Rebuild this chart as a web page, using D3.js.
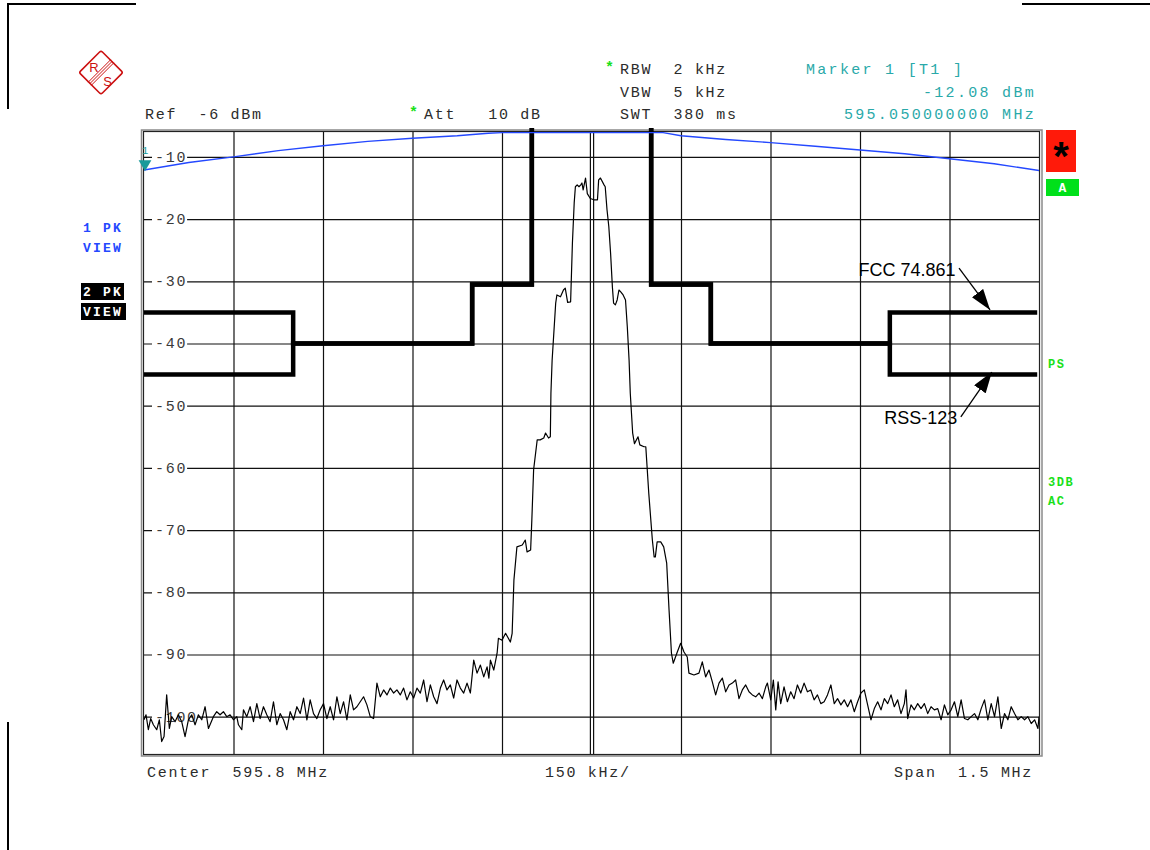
<!DOCTYPE html>
<html><head><meta charset="utf-8">
<script src="https://cdn.jsdelivr.net/npm/d3@7"></script>
<style>
html,body{margin:0;padding:0;background:#fff;}
svg{display:block;}
</style></head><body>
<svg id="chart" width="1150" height="850"></svg>
<script>
// ---------------- DATA ----------------
const centerMHz = 595.8;
const spanKHz = [-750, 750];             // frequency offset from center, kHz
const levelRange = [-106, -6];           // dBm (Ref -6 dBm, 10 dB/div)
const yTicks = [-10, -20, -30, -40, -50, -60, -70, -80, -90, -100];
const xGridKHz = [-600, -450, -300, -150, 0, 150, 300, 450, 600];

const refText = "Ref  -6 dBm";
const attText = "Att   10 dB";
const sweepTexts = ["RBW  2 kHz", "VBW  5 kHz", "SWT  380 ms"];
const markerTexts = ["Marker 1 [T1 ]", "-12.08 dBm", "595.050000000 MHz"];
const footerTexts = ["Center  595.8 MHz", "150 kHz/", "Span  1.5 MHz"];
const trace1Labels = ["1 PK", "VIEW"];
const trace2Labels = ["2 PK", "VIEW"];
const statusLabels = ["PS", "3DB", "AC"];
const annotationTexts = ["FCC 74.861", "RSS-123"];

const marker1 = [-750, -12.08];

// limit masks [kHz offset, dBm]
const limitFCC = [[-750,-35],[-500,-35],[-500,-40],[-200,-40],[-200,-30.5],[-100,-30.5],[-100,0],
                  [100,0],[100,-30.5],[200,-30.5],[200,-40],[500,-40],[500,-35],[747,-35]];
const limitRSS = [[-750,-45],[-500,-45],[-500,-40],[-200,-40],[-200,-30.5],[-100,-30.5],[-100,0],
                  [100,0],[100,-30.5],[200,-30.5],[200,-40],[500,-40],[500,-45],[747,-45]];

// trace 1 (blue, PK view)
const trace1 = [[-750,-12.1],[-675,-10.9],[-600,-10.0],[-525,-9.0],[-450,-8.2],[-375,-7.5],[-300,-7.0],
  [-225,-6.6],[-173,-6.2],[-150,-6.1],[0,-6.1],[120,-6.1],[150,-6.6],[225,-7.2],[300,-7.7],[375,-8.3],
  [450,-8.9],[525,-9.5],[600,-10.3],[675,-11.1],[750,-12.2]];

// trace 2 (black spectrum)
const trace2 = [
 [-750,-100.5],[-746.6,-99.7],[-742.7,-102.1],[-738.8,-100.3],[-734.3,-101.3],[-728.7,-102.1],[-724.3,-100.5],
 [-720.4,-104.0],[-716.4,-103.2],[-712,-96.5],[-707.5,-101.9],[-703.6,-100.0],[-698,-100.8],[-692.4,-99.7],
 [-686.8,-100.8],[-681.2,-103.2],[-675.6,-100.5],[-670,-99.7],[-664.4,-101.3],[-658.8,-99.7],[-653.2,-100.5],
 [-647.6,-98.4],[-642,-101.9],[-633.7,-100.0],[-628.1,-99.2],[-622.5,-99.7],[-616.9,-99.2],[-611.3,-100.0],
 [-605.7,-99.7],[-600.1,-100.5],[-594.5,-100.0],[-591.7,-101.3],[-586.1,-102.1],[-583.3,-98.9],[-577.7,-100.0],
 [-572.1,-98.4],[-566.5,-100.8],[-560.9,-97.9],[-555.4,-100.3],[-549.8,-98.4],[-544.2,-99.7],[-538.6,-100.8],
 [-533,-97.6],[-527.4,-101.3],[-521.8,-99.5],[-516.2,-100.5],[-510.6,-102.1],[-505,-99.2],[-499.4,-100.5],
 [-493.8,-98.4],[-488.2,-99.5],[-482.6,-97.0],[-477,-100.5],[-471.5,-97.3],[-465.9,-99.5],[-460.3,-100.3],
 [-454.7,-98.9],[-449.1,-97.9],[-443.5,-100.3],[-437.9,-98.4],[-432.3,-100.5],[-426.7,-96.8],[-421.1,-99.5],
 [-415.5,-97.6],[-409.9,-100.5],[-404.3,-96.5],[-398.8,-98.9],[-393.2,-98.4],[-387.6,-97.6],[-382,-96.8],
 [-376.4,-98.1],[-370.8,-100.0],[-365.2,-100.3],[-359.6,-94.6],[-354,-96.8],[-348.4,-95.7],[-342.8,-96.5],
 [-337.2,-95.4],[-331.6,-96.2],[-326.1,-95.7],[-320.5,-96.5],[-314.9,-95.4],[-309.3,-97.3],[-303.7,-96.0],
 [-298.1,-97.0],[-292.5,-95.4],[-286.9,-96.2],[-281.3,-94.1],[-275.7,-97.6],[-270.1,-94.9],[-264.5,-96.8],
 [-258.9,-97.9],[-253.3,-95.4],[-247.8,-94.1],[-242.2,-95.7],[-236.6,-94.9],[-231,-97.0],[-225.4,-94.1],
 [-219.8,-95.4],[-214.2,-96.2],[-208.6,-94.6],[-203,-96.2],[-197.4,-90.9],[-191.8,-93.0],[-186.2,-91.7],
 [-180.6,-93.6],[-175,-92.0],[-172,-93.8],[-169.4,-90.9],[-163.8,-92.5],[-158.2,-89.8],
 [-156,-87.4],[-150,-87.7],[-144,-86.6],[-141,-87.1],[-136,-88.0],[-133,-86.6],[-130,-78.0],[-125,-72.7],
 [-116,-72.4],[-111,-71.6],[-108,-73.5],[-102,-73.2],[-100,-68.4],[-97,-60.3],[-91,-55.5],[-86,-55.5],
 [-80,-55.2],[-77,-54.4],[-72,-55.2],[-69,-55.0],[-68,-48.0],[-66,-42.7],[-60,-33.5],[-58,-32.2],[-52,-32.5],
 [-47,-31.4],[-44,-31.1],[-40,-33.4],[-35,-33.3],[-32,-23.9],[-29,-17.4],[-27,-14.8],[-24,-14.5],[-21,-14.8],
 [-18,-14.5],[-16,-14.2],[-14,-15.3],[-10,-13.4],[-7,-15.9],[-2,-16.7],[4,-16.9],[10,-16.9],[12,-13.7],
 [15,-13.4],[21,-14.5],[23,-14.8],[26,-18.5],[29,-21.2],[32,-25.5],[35,-30.9],[37,-33.5],[40,-33.8],
 [43,-33.0],[46,-31.4],[49,-31.7],[53,-32.2],[57,-33.0],[60,-37.3],[63,-42.7],[65,-48.0],[69,-54.4],
 [72,-56.1],[78,-55.0],[81,-56.3],[88,-56.6],[91,-56.6],[96,-64.1],[102,-71.6],[105,-74.3],[107,-74.3],
 [110,-71.9],[116,-71.9],[121,-72.7],[126,-75.3],[130,-82.9],[134,-89.8],[137,-91.4],
 [143.8,-89.6],[149.4,-88.2],[155,-89.6],[160.5,-90.4],[163.3,-93.0],[171.7,-93.3],[180.1,-93.0],
 [185.7,-91.2],[191.3,-93.6],[196.9,-92.5],[202.5,-94.4],[208.1,-96.5],[213.7,-94.6],[219.3,-93.8],
 [224.9,-96.0],[230.5,-94.9],[236.1,-94.6],[241.6,-94.1],[247.2,-97.1],[252.8,-95.7],[258.4,-94.9],
 [264,-96.0],[269.6,-96.5],[275.2,-96.8],[280.8,-96.2],[286.4,-97.1],[292,-95.2],[294.8,-94.6],
 [300.4,-97.3],[304.8,-94.1],[308.8,-98.9],[312.7,-94.4],[317.1,-97.9],[322.7,-95.2],[328.3,-97.6],
 [333.9,-96.0],[339.5,-97.1],[345.1,-94.9],[350.7,-96.2],[356.3,-94.6],[361.9,-96.0],[367.5,-95.7],
 [373.1,-97.3],[378.7,-96.5],[384.3,-97.9],[389.9,-97.6],[395.5,-96.5],[401.2,-94.9],[406.8,-97.9],
 [412.4,-97.1],[418,-98.1],[423.6,-97.3],[429.2,-98.4],[434.8,-97.3],[440.4,-99.2],[446,-97.6],
 [451.6,-96.2],[457.2,-95.7],[462.8,-98.1],[468.4,-100.5],[474,-98.7],[479.6,-97.6],[485.2,-98.9],
 [490.8,-97.1],[496.4,-97.9],[502,-96.5],[507.5,-98.4],[513.1,-97.3],[518.7,-99.5],[524.3,-97.9],
 [527.1,-95.7],[529.9,-100.3],[535.5,-98.1],[541.1,-98.9],[546.7,-97.9],[552.3,-98.7],[557.9,-97.9],
 [563.5,-99.5],[569.1,-98.4],[574.7,-98.9],[580.3,-98.7],[585.9,-100.5],[591.5,-98.1],[597.1,-99.7],
 [602.7,-98.9],[608.3,-97.6],[613.9,-100.0],[619.5,-97.3],[625.1,-100.3],[630.7,-100.5],[636.3,-100.0],
 [641.9,-99.5],[647.5,-100.5],[653.1,-98.7],[658.7,-97.3],[664.3,-100.5],[669.9,-97.9],[675.5,-100.0],
 [681.1,-96.8],[686.7,-101.9],[692.2,-99.5],[697.8,-100.5],[703.4,-98.4],[709,-99.5],[714.6,-100.5],
 [720.2,-100.0],[725.8,-100.5],[731.4,-100.0],[737,-101.1],[742.6,-100.5],[748.2,-101.9],[750,-100.0]
];

// annotation anchors in data space [kHz, dBm]
const fccTextAt = [610, -29.2], fccArrowFrom = [616, -27.9], fccArrowTo = [668, -34.6];
const rssTextAt = [613, -52.9], rssArrowFrom = [619, -51.8], rssArrowTo = [671, -44.6];

// ---------------- DRAW ----------------
const svg = d3.select("#chart");
const X0 = 144, X1 = 1039, Y0 = 132, Y1 = 754;
const x = d3.scaleLinear().domain(spanKHz).range([X0, X1]);
const y = d3.scaleLinear().domain(levelRange).range([Y1, Y0]);
const MONO = "'Liberation Mono','DejaVu Sans Mono',monospace";
const GREY = "#2b2b2b", TEAL = "#2aa9a9", GREEN = "#19e019", BLUE = "#2448ff";

svg.append("rect").attr("width",1150).attr("height",850).attr("fill","#fff");

// corner marks
const corner = svg.append("g").attr("stroke","#000").attr("stroke-width",2).attr("fill","none");
corner.append("path").attr("d","M8,109 V4 H136");
corner.append("path").attr("d","M1022,4 H1150");
corner.append("path").attr("d","M8,722 V850");

// R&S logo
const logo = svg.append("g").attr("transform","translate(101,72.5)");
logo.append("rect").attr("x",-15.5).attr("y",-15.5).attr("width",31).attr("height",31).attr("rx",2)
  .attr("transform","rotate(45)").attr("fill","none").attr("stroke","#cc1111").attr("stroke-width",1.6);
[-2.2,0,2.2].forEach(o => {
  logo.append("line").attr("x1",11.2+o*0.707).attr("y1",-11.2+o*0.707).attr("x2",-11.2+o*0.707).attr("y2",11.2+o*0.707)
    .attr("stroke","#cc1111").attr("stroke-width",1);
});
logo.append("text").attr("x",-7).attr("y",-1).attr("text-anchor","middle").attr("font-family","'Liberation Sans',sans-serif")
  .attr("font-size",13).attr("fill","#cc1111").text("R");
logo.append("text").attr("x",6.5).attr("y",13).attr("text-anchor","middle").attr("font-family","'Liberation Sans',sans-serif")
  .attr("font-size",13).attr("fill","#cc1111").text("S");

function monoText(g, str, px, py, opts = {}) {
  return g.append("text").attr("x",px).attr("y",py)
    .attr("font-family",MONO).attr("font-size",opts.size || 15)
    .attr("font-weight",opts.weight || "normal")
    .attr("letter-spacing",opts.ls !== undefined ? opts.ls : 1.7)
    .attr("fill",opts.fill || GREY).attr("text-anchor",opts.anchor || "start")
    .style("white-space","pre").text(str);
}
function star(g, px, py) {
  g.append("text").attr("x",px).attr("y",py).attr("font-family",MONO).attr("font-size",15)
    .attr("font-weight","bold").attr("fill",GREEN).text("*");
}

// header
const hdr = svg.append("g");
monoText(hdr, refText, 145, 119);
star(hdr, 409, 117); monoText(hdr, attText, 424, 119);
star(hdr, 605, 72);
sweepTexts.forEach((t,i) => monoText(hdr, t, 620, 74 + i*22.5));
monoText(hdr, markerTexts[0], 806, 74, {fill:TEAL, ls:2.3});
monoText(hdr, markerTexts[1], 1036, 96.5, {fill:TEAL, ls:2.3, anchor:"end"});
monoText(hdr, markerTexts[2], 1036, 119, {fill:TEAL, ls:2.3, anchor:"end"});

// footer
monoText(hdr, footerTexts[0], 147, 777);
monoText(hdr, footerTexts[1], 545, 777);
monoText(hdr, footerTexts[2], 1033, 777, {anchor:"end"});

// left trace labels
trace1Labels.forEach((t,i) => monoText(hdr, t, 83, 232 + i*20, {size:13, weight:"bold", fill:BLUE, ls:2.2}));
trace2Labels.forEach((t,i) => {
  hdr.append("rect").attr("x",81).attr("y",283 + i*20).attr("width", i ? 45 : 43).attr("height",17).attr("fill","#000");
  monoText(hdr, t, 83, 296 + i*20, {size:13, weight:"bold", fill:"#fff", ls:2.2});
});

// right status
hdr.append("rect").attr("x",1046).attr("y",130).attr("width",30).attr("height",42).attr("fill","#ff1a0a");
hdr.append("text").attr("x",1061).attr("y",170).attr("text-anchor","middle").attr("font-family","'Liberation Sans',sans-serif")
  .attr("font-size",40).attr("font-weight","bold").attr("fill","#000").text("*");
hdr.append("rect").attr("x",1046).attr("y",179).attr("width",33).attr("height",17).attr("fill","#00e01a");
hdr.append("text").attr("x",1062.5).attr("y",192).attr("text-anchor","middle").attr("font-family",MONO)
  .attr("font-size",13).attr("font-weight","bold").attr("fill","#fff").text("A");
monoText(hdr, statusLabels[0], 1048, 368, {size:12, weight:"bold", fill:GREEN, ls:1.5});
monoText(hdr, statusLabels[1], 1048, 486, {size:12, weight:"bold", fill:GREEN, ls:1.5});
monoText(hdr, statusLabels[2], 1048, 505, {size:12, weight:"bold", fill:GREEN, ls:1.5});

// grid
const gx = svg.append("g").attr("transform",`translate(0,${Y1})`)
  .call(d3.axisBottom(x).tickValues(xGridKHz).tickSize(-(Y1-Y0)).tickFormat(""));
gx.select(".domain").remove();
gx.selectAll("line").attr("stroke","#111").attr("stroke-width",1.2);
gx.selectAll(".tick").filter(d => d === 0).each(function() {
  const t = d3.select(this);
  t.select("line").attr("transform","translate(-1.6,0)");
  t.append("line").attr("y2",-(Y1-Y0)).attr("stroke","#111").attr("stroke-width",1.2).attr("transform","translate(1.6,0)");
});
const gy = svg.append("g").attr("transform",`translate(${X0},0)`)
  .call(d3.axisLeft(y).tickValues(yTicks).tickSize(-(X1-X0)).tickFormat(""));
gy.select(".domain").remove();
gy.selectAll("line").attr("stroke","#111").attr("stroke-width",1.2);

// y labels with white background
yTicks.forEach(v => {
  const lbl = String(v);
  const w = lbl.length * 10.7 + 3;
  svg.append("rect").attr("x",X0+8).attr("y",y(v)-8).attr("width",w).attr("height",15).attr("fill","#fff");
  monoText(svg, lbl, X0+11, y(v)+5, {fill:"#3a3a3a", ls:1.7});
});

// frame
svg.append("rect").attr("x",141.5).attr("y",130).attr("width",900.5).attr("height",626)
  .attr("fill","none").attr("stroke","#8a8a8a").attr("stroke-width",1.5);
svg.append("rect").attr("x",143.5).attr("y",131.5).attr("width",896).attr("height",623)
  .attr("fill","none").attr("stroke","#222").attr("stroke-width",1.2);

// clip
const defs = svg.append("defs");
defs.append("clipPath").attr("id","plotclip").append("rect")
  .attr("x",X0).attr("y",Y0-4).attr("width",X1-X0).attr("height",Y1-Y0+4);
defs.append("marker").attr("id","ah").attr("markerUnits","userSpaceOnUse")
  .attr("markerWidth",22).attr("markerHeight",14).attr("refX",21).attr("refY",7).attr("orient","auto")
  .append("path").attr("d","M0,0 L21,7 L0,14 Z").attr("fill","#000");

const line = d3.line().x(d => x(d[0])).y(d => y(d[1]));
const plot = svg.append("g").attr("clip-path","url(#plotclip)");

// limit lines
[limitFCC, limitRSS].forEach(L => {
  plot.append("path").datum(L).attr("d", line).attr("fill","none").attr("stroke","#000")
    .attr("stroke-width",4.5).attr("stroke-linejoin","miter").attr("stroke-linecap","butt");
});
// trace 1 blue
plot.append("path").datum(trace1).attr("d", line).attr("fill","none").attr("stroke",BLUE).attr("stroke-width",1.4);
// trace 2 black
plot.append("path").datum(trace2).attr("d", line).attr("fill","none").attr("stroke","#000")
  .attr("stroke-width",1.2).attr("stroke-linejoin","round");

// marker 1
const mk = svg.append("g");
mk.append("path").attr("d", d3.symbol(d3.symbolTriangle, 70)())
  .attr("transform",`translate(${x(marker1[0])+1},${y(marker1[1])-6}) rotate(180)`).attr("fill","#1a9a9a");
mk.append("text").attr("x",x(marker1[0])+1).attr("y",y(marker1[1])-16).attr("text-anchor","middle")
  .attr("font-family",MONO).attr("font-size",11).attr("fill","#1a9a9a").text("1");

// annotations
const ann = svg.append("g");
ann.append("text").attr("x",x(fccTextAt[0])).attr("y",y(fccTextAt[1])).attr("text-anchor","end")
  .attr("font-family","'Liberation Sans',Arial,sans-serif").attr("font-size",18).attr("fill","#000").text(annotationTexts[0]);
ann.append("text").attr("x",x(rssTextAt[0])).attr("y",y(rssTextAt[1])).attr("text-anchor","end")
  .attr("font-family","'Liberation Sans',Arial,sans-serif").attr("font-size",18).attr("fill","#000").text(annotationTexts[1]);
[[fccArrowFrom,fccArrowTo],[rssArrowFrom,rssArrowTo]].forEach(([a,b]) => {
  ann.append("line").attr("x1",x(a[0])).attr("y1",y(a[1])).attr("x2",x(b[0])).attr("y2",y(b[1]))
    .attr("stroke","#000").attr("stroke-width",1.3).attr("marker-end","url(#ah)");
});
</script>
</body></html>
